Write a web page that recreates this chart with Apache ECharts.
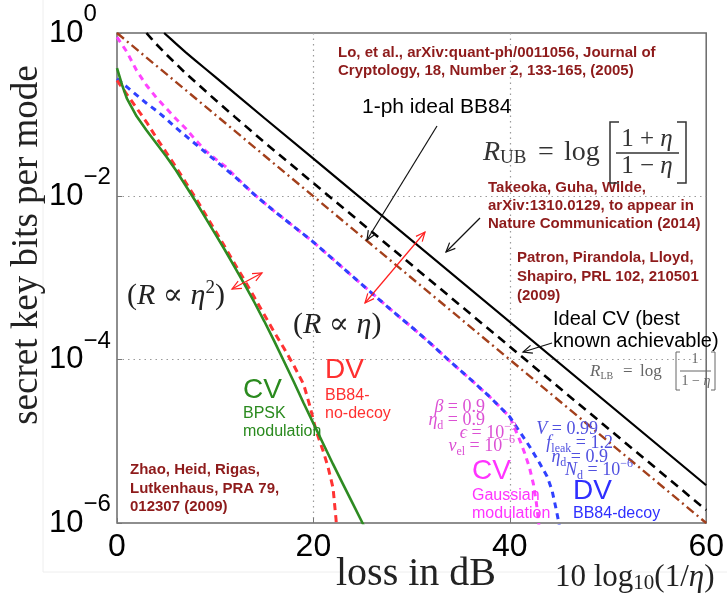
<!DOCTYPE html>
<html><head><meta charset="utf-8">
<script src="https://cdn.jsdelivr.net/npm/echarts@6/dist/echarts.min.js"></script>
<style>html,body{margin:0;padding:0;background:#fff}#c{width:727px;height:594px}</style>
</head><body><div id="c"></div>
<script>
// ---- axis ticks ----
const xTicks = [0, 20, 40, 60];
const yTickExps = [0, -2, -4, -6];

// ---- series (loss in dB, secret key rate) ----
const ubLoss = [4.8, 5.5, 6, 7, 8, 9, 10, 12, 15, 20, 60];
const ubRate = [1.0, 0.84, 0.74, 0.58, 0.46, 0.365, 0.29, 0.182, 0.091, 0.029, 2.9e-6];
const lbLoss = [3.0, 3.5, 4, 5, 6, 7, 8, 10, 12, 15, 20, 60];
const lbRate = [1.0, 0.855, 0.73, 0.55, 0.42, 0.32, 0.25, 0.152, 0.094, 0.046, 0.0145, 1.44e-6];
const bb84Loss = [0, 60];
const bb84Rate = [1.0, 1.0e-6];

// log10(rate)
const cvBpskLoss = [0, 0.5, 1, 2, 3, 4, 5, 6, 7, 8, 9, 10, 11, 12, 13, 14, 15, 16, 17, 18, 19, 20, 21, 22, 23, 24, 25, 25.4];
const cvBpskLog = [-0.43, -0.63, -0.80, -1.02, -1.19, -1.35, -1.51, -1.68, -1.87, -2.06, -2.26, -2.46, -2.66, -2.87, -3.08, -3.30, -3.53, -3.77, -4.02, -4.27, -4.53, -4.78, -5.03, -5.28, -5.52, -5.76, -6.0, -6.1];
const dvNoDecoyLoss = [0, 1, 2, 3, 4, 5, 6, 7, 8, 9, 10, 11, 12, 13, 14, 15, 16, 17, 18, 19, 19.6, 20.3, 21, 21.5, 22, 22.3, 22.45];
const dvNoDecoyLog = [-0.58, -0.75, -0.92, -1.09, -1.28, -1.46, -1.64, -1.83, -2.02, -2.22, -2.42, -2.62, -2.83, -3.03, -3.24, -3.45, -3.66, -3.86, -4.07, -4.30, -4.55, -4.88, -5.12, -5.32, -5.57, -5.95, -6.2];
const dvDecoyLoss = [0, 1, 2, 3, 4, 5, 6, 7, 8, 9, 10, 11, 12, 14, 16, 18, 20, 22, 24, 26, 28, 30, 32, 34, 36, 38, 40, 41, 42, 43, 43.8, 44.3, 44.7, 45.0, 45.15];
const dvDecoyLog = [-0.56, -0.66, -0.76, -0.86, -0.95, -1.05, -1.16, -1.26, -1.36, -1.46, -1.56, -1.66, -1.76, -1.98, -2.18, -2.37, -2.56, -2.77, -2.98, -3.19, -3.40, -3.60, -3.81, -4.03, -4.24, -4.46, -4.70, -4.88, -5.06, -5.26, -5.43, -5.60, -5.82, -6.0, -6.15];
const cvGaussLoss = [0, 1, 2, 3, 4, 5, 6, 7, 8, 9, 10, 11, 12, 14, 16, 18, 20, 22, 24, 26, 28, 30, 32, 34, 36, 38, 40, 40.5, 41, 41.5, 42, 42.4, 42.7, 42.9, 43.1];
const cvGaussLog = [-0.05, -0.23, -0.46, -0.64, -0.79, -0.92, -1.05, -1.17, -1.31, -1.44, -1.54, -1.63, -1.75, -1.98, -2.18, -2.37, -2.56, -2.77, -2.98, -3.19, -3.40, -3.60, -3.81, -4.03, -4.24, -4.46, -4.70, -4.84, -4.98, -5.14, -5.32, -5.52, -5.75, -5.95, -6.2];

const pairs = (xs, ys) => xs.map((x, i) => [x, ys[i]]);
const pairsLog = (xs, ls) => xs.map((x, i) => [x, Math.pow(10, ls[i])]);

const SANS = '"Liberation Sans", Arial, sans-serif';
const SERIF = '"Liberation Serif", "Times New Roman", "DejaVu Serif", serif';
const DARKRED = '#8e1b1b';

const chart = echarts.init(document.getElementById('c'), null, {renderer: 'canvas'});

function lineSeries(name, data, color, width, type, z) {
  return {name, type: 'line', data, symbol: 'none', z,
    lineStyle: {color, width, type}, emphasis: {disabled: true}};
}

function txt(x, y, text, style, extra) {
  return Object.assign({type: 'text', x, y, silent: true, z: 50,
    style: Object.assign({text, fill: '#000', align: 'left', verticalAlign: 'middle'}, style)}, extra || {});
}
function arrow(x1, y1, x2, y2, color, both, w) {
  const els = [{type: 'line', silent: true, z: 50, shape: {x1, y1, x2, y2}, style: {stroke: color, lineWidth: w}}];
  const head = (ax, ay, bx, by) => {
    const ang = Math.atan2(by - ay, bx - ax), L = 10, a = 0.42;
    return {type: 'polyline', silent: true, z: 50, shape: {points: [
      [bx - L * Math.cos(ang - a), by - L * Math.sin(ang - a)], [bx, by],
      [bx - L * Math.cos(ang + a), by - L * Math.sin(ang + a)]]},
      style: {stroke: color, lineWidth: w, fill: null}};
  };
  els.push(head(x1, y1, x2, y2));
  if (both) els.push(head(x2, y2, x1, y1));
  return els;
}

const mathRich = (size, color) => ({
  i: {fontStyle: 'italic', fontSize: size, fontFamily: SERIF, lineHeight: 24, fill: color},
  n: {fontSize: size, fontFamily: SERIF, lineHeight: 24, fill: color},
  sub: {fontSize: Math.round(size * 0.66), fontFamily: SERIF, lineHeight: 14, verticalAlign: 'bottom', fill: color},
  sup: {fontSize: Math.round(size * 0.66), fontFamily: SERIF, lineHeight: 12, verticalAlign: 'top', fill: color}
});
function mathTxt(xRight, y, text, size, color) {
  return txt(xRight, y, text, {rich: mathRich(size, color), fontSize: size, fontFamily: SERIF, lineHeight: 24, fill: color, align: 'right'});
}

const MAG = '#dc50d4', BLU = '#5050e0';
const graphics = [
  // faint outer frame
  {type: 'line', silent: true, shape: {x1: 43, y1: 0, x2: 43, y2: 572}, style: {stroke: '#eeeeee', lineWidth: 1}},
  {type: 'line', silent: true, shape: {x1: 43, y1: 572, x2: 727, y2: 572}, style: {stroke: '#eeeeee', lineWidth: 1}},
  // references
  txt(338, 44.5, 'Lo, et al., arXiv:quant-ph/0011056, Journal of\nCryptology, 18, Number 2, 133-165, (2005)',
    {font: 'bold 15px ' + SANS, fill: DARKRED, lineHeight: 17.5, verticalAlign: 'top'}),
  txt(488, 178.5, 'Takeoka, Guha, Wilde,\narXiv:1310.0129, to appear in\nNature Communication (2014)',
    {font: 'bold 15px ' + SANS, fill: DARKRED, lineHeight: 18, verticalAlign: 'top'}),
  txt(517, 249, 'Patron, Pirandola, Lloyd,\nShapiro, PRL 102, 210501\n(2009)',
    {font: 'bold 15px ' + SANS, fill: DARKRED, lineHeight: 18.7, verticalAlign: 'top'}),
  txt(130, 461, 'Zhao, Heid, Rigas,\nLutkenhaus, PRA 79,\n012307 (2009)',
    {font: 'bold 15px ' + SANS, fill: DARKRED, lineHeight: 18.5, verticalAlign: 'top'}),
  txt(362, 107, '1-ph ideal BB84', {font: '21px ' + SANS}),
  txt(553, 308, 'Ideal CV (best\nknown achievable)', {font: '20px ' + SANS, lineHeight: 22, verticalAlign: 'top'}),
  // R_UB formula
  txt(483, 153, '{i|R}{sub|UB}', {rich: {
    i: {fontStyle: 'italic', fontSize: 28, fontFamily: SERIF, lineHeight: 30, fill: '#333'},
    sub: {fontSize: 19, fontFamily: SERIF, lineHeight: 16, verticalAlign: 'bottom', fill: '#333'}}, lineHeight: 30}),
  txt(538, 153, '=', {font: '28px ' + SERIF, fill: '#333'}),
  txt(564, 153, 'log', {font: '28px ' + SERIF, fill: '#333'}),
  txt(647, 139, '1 + {i|η}', {font: '25px ' + SERIF, fill: '#333', align: 'center',
    rich: {i: {fontStyle: 'italic', fontSize: 25, fontFamily: SERIF, fill: '#333'}}}),
  txt(647, 166, '1 − {i|η}', {font: '25px ' + SERIF, fill: '#333', align: 'center',
    rich: {i: {fontStyle: 'italic', fontSize: 25, fontFamily: SERIF, fill: '#333'}}}),
  {type: 'line', silent: true, z: 50, shape: {x1: 616, y1: 153, x2: 679, y2: 153}, style: {stroke: '#333', lineWidth: 1.4}},
  {type: 'polyline', silent: true, z: 50, shape: {points: [[619, 122], [610, 122], [610, 183], [619, 183]]}, style: {stroke: '#333', lineWidth: 1.5, fill: null}},
  {type: 'polyline', silent: true, z: 50, shape: {points: [[677, 122], [686, 122], [686, 183], [677, 183]]}, style: {stroke: '#333', lineWidth: 1.5, fill: null}},
  // R_LB formula
  txt(590, 372, '{i|R}{sub|LB}', {rich: {
    i: {fontStyle: 'italic', fontSize: 17, fontFamily: SERIF, lineHeight: 18, fill: '#666'},
    sub: {fontSize: 10, fontFamily: SERIF, lineHeight: 10, verticalAlign: 'bottom', fill: '#666'}}, lineHeight: 18}),
  txt(623, 372, '=', {font: '17px ' + SERIF, fill: '#666'}),
  txt(640, 372, 'log', {font: '17px ' + SERIF, fill: '#666'}),
  txt(695, 359, '1', {font: '14px ' + SERIF, fill: '#666', align: 'center'}),
  txt(696, 381, '1 − {i|η}', {font: '14px ' + SERIF, fill: '#666', align: 'center',
    rich: {i: {fontStyle: 'italic', fontSize: 14, fontFamily: SERIF, fill: '#666'}}}),
  {type: 'line', silent: true, z: 50, shape: {x1: 680, y1: 371, x2: 711, y2: 371}, style: {stroke: '#666', lineWidth: 1}},
  {type: 'polyline', silent: true, z: 50, shape: {points: [[680, 352], [676, 352], [676, 390], [680, 390]]}, style: {stroke: '#666', lineWidth: 1, fill: null}},
  {type: 'polyline', silent: true, z: 50, shape: {points: [[711, 352], [715, 352], [715, 390], [711, 390]]}, style: {stroke: '#666', lineWidth: 1, fill: null}},
  // proportionality labels
  txt(127, 296, '({i|R} ∝ {i|η}{p|2})', {font: '30px ' + SERIF, fill: '#222', lineHeight: 34, rich: {
    i: {fontStyle: 'italic', fontSize: 30, fontFamily: SERIF, lineHeight: 34, fill: '#222'},
    p: {fontSize: 19, fontFamily: SERIF, lineHeight: 16, verticalAlign: 'top', fill: '#222'}}}),
  txt(293, 325, '({i|R} ∝ {i|η})', {font: '30px ' + SERIF, fill: '#222', lineHeight: 34, rich: {
    i: {fontStyle: 'italic', fontSize: 30, fontFamily: SERIF, lineHeight: 34, fill: '#222'}}}),
  // protocol labels
  txt(243, 390, 'CV', {font: '28px ' + SANS, fill: '#2a8a1e'}),
  txt(243, 405, 'BPSK\nmodulation', {font: '16px ' + SANS, fill: '#2a8a1e', lineHeight: 17.5, verticalAlign: 'top'}),
  txt(325, 370, 'DV', {font: '28px ' + SANS, fill: '#ff3030'}),
  txt(325, 387, 'BB84-\nno-decoy', {font: '16px ' + SANS, fill: '#ff3030', lineHeight: 18, verticalAlign: 'top'}),
  txt(472, 471, 'CV', {font: '28px ' + SANS, fill: '#ff33ff'}),
  txt(472, 487, 'Gaussian\nmodulation', {font: '16px ' + SANS, fill: '#ff33ff', lineHeight: 18, verticalAlign: 'top'}),
  txt(573, 491, 'DV', {font: '28px ' + SANS, fill: '#2f2fff'}),
  txt(573, 514, 'BB84-decoy', {font: '16px ' + SANS, fill: '#2f2fff'}),
  // parameters (right edges)
  mathTxt(485, 407, '{i|β} = 0.9', 18, MAG),
  mathTxt(485, 420, '{i|η}{sub|d} = 0.9', 18, MAG),
  mathTxt(517, 433, '{i|ϵ} = 10{sup|−3}', 18, MAG),
  mathTxt(515, 446, '{i|v}{sub|el} = 10{sup|−6}', 18, MAG),
  mathTxt(598, 429, '{i|V} = 0.99', 18, BLU),
  mathTxt(613, 443, '{i|f}{sub|leak} = 1.2', 18, BLU),
  mathTxt(608, 457, '{i|η}{sub|d} = 0.9', 18, BLU),
  mathTxt(633, 470, '{i|N}{sub|d} = 10{sup|−6}', 18, BLU),
  // axis titles
  txt(336, 574, 'loss in dB', {font: '40px ' + SERIF, fill: '#222'}),
  txt(555, 578, '10 log{s|10}(1/{i|η})', {font: '31px ' + SERIF, fill: '#222', lineHeight: 32, rich: {
    s: {fontSize: 21, fontFamily: SERIF, lineHeight: 14, verticalAlign: 'bottom', fill: '#222'},
    i: {fontStyle: 'italic', fontSize: 31, fontFamily: SERIF, lineHeight: 32, fill: '#222'}}}),
  txt(27, 245, 'secret key bits per mode', {font: '37px ' + SERIF, fill: '#222', align: 'center'}, {rotation: Math.PI / 2}),
  // arrows
  ...arrow(437, 126, 367, 240, '#111', false, 1.2),
  ...arrow(480, 218, 446, 252, '#111', false, 1.2),
  ...arrow(552, 343, 523, 352, '#111', false, 1.2),
  ...arrow(232, 289, 262, 273, '#ff2020', true, 1.2),
  ...arrow(365, 303, 425, 232, '#ff2020', true, 1.2)
];

const option = {
  animation: false,
  backgroundColor: '#fff',
  grid: {left: 117, top: 33, right: 10, bottom: 71, show: true, borderColor: '#6a6a6a', borderWidth: 1.5},
  xAxis: {
    type: 'value', min: xTicks[0], max: xTicks[xTicks.length - 1], interval: xTicks[1] - xTicks[0],
    axisLine: {show: false},
    axisTick: {show: true, inside: true, length: 5, lineStyle: {color: '#777'}},
    axisLabel: {fontSize: 32, fontFamily: SANS, color: '#000', margin: 8},
    splitLine: {show: true, showMinLine: false, showMaxLine: false, lineStyle: {type: [1.5, 4], color: '#9a9a9a', width: 1.2}}
  },
  yAxis: {
    type: 'log', logBase: 10, min: Math.pow(10, yTickExps[3]), max: Math.pow(10, yTickExps[0]),
    interval: yTickExps[0] - yTickExps[1],
    axisLine: {show: false},
    axisTick: {show: true, inside: true, length: 5, lineStyle: {color: '#777'}},
    splitLine: {show: true, showMinLine: false, showMaxLine: false, lineStyle: {type: [1.5, 4], color: '#9a9a9a', width: 1.2}},
    axisLabel: {
      margin: 68, align: 'left', color: '#000',
      formatter: v => {
        const e = Math.round(Math.log10(v));
        return '{b|10}{s|' + (e < 0 ? '−' + (-e) : e) + '}';
      },
      rich: {
        b: {fontSize: 31, fontFamily: SANS, lineHeight: 61, color: '#000'},
        s: {fontSize: 24, fontFamily: SANS, lineHeight: 20, verticalAlign: 'top', color: '#000'}
      }
    }
  },
  series: [
    lineSeries('1-ph ideal BB84', pairs(bb84Loss, bb84Rate), '#a3401c', 2.4, [9, 4, 2, 4], 2),
    lineSeries('R_LB', pairs(lbLoss, lbRate), '#000', 2.6, [9, 6], 3),
    lineSeries('R_UB', pairs(ubLoss, ubRate), '#000', 2.2, 'solid', 4),
    lineSeries('CV Gaussian', pairsLog(cvGaussLoss, cvGaussLog), '#ff44ff', 3, [6, 5], 5),
    lineSeries('DV BB84-decoy', pairsLog(dvDecoyLoss, dvDecoyLog), '#3040ff', 3, [6, 5], 6),
    lineSeries('DV BB84-no-decoy', pairsLog(dvNoDecoyLoss, dvNoDecoyLog), '#ff3333', 3, [7, 5], 7),
    lineSeries('CV BPSK', pairsLog(cvBpskLoss, cvBpskLog), '#2e8b22', 2.6, 'solid', 8)
  ],
  graphic: graphics
};
chart.setOption(option);
</script></body></html>
